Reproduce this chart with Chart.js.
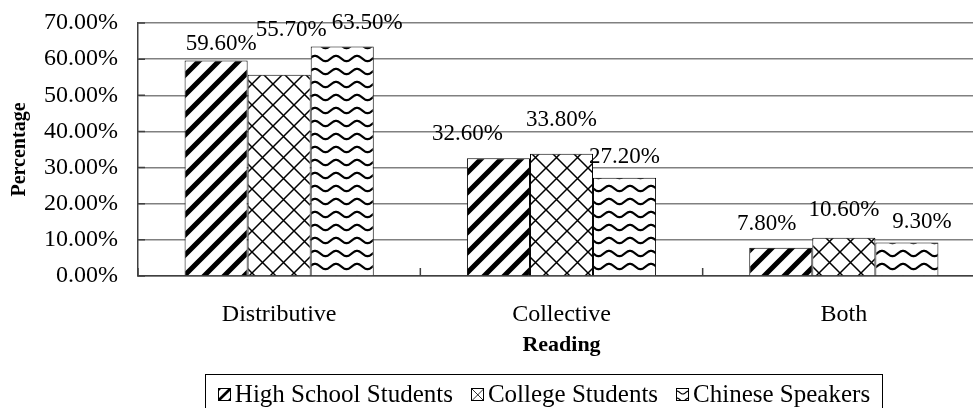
<!DOCTYPE html>
<html>
<head>
<meta charset="utf-8">
<script src="https://cdn.jsdelivr.net/npm/chart.js@4.4.0/dist/chart.umd.min.js"></script>
<style>
    body { margin: 0; background: #fff; overflow: hidden; }
    #wrap { position: relative; width: 986px; height: 408px; }
    #legend {
        position: absolute; left: 205px; top: 374px; width: 678px; height: 50px;
        border: 1px solid #000; box-sizing: border-box;
        font-family: 'Liberation Serif', serif; font-size: 25px; color: #000;
        display: flex; justify-content: center; align-items: flex-start;
        padding-top: 5px; white-space: nowrap;
    }
    .item { display: flex; align-items: center; margin: 0 9px; line-height: 28px; }
    .item canvas { width: 11px; height: 11px; margin-right: 4px; border: 1px solid #000; }
</style>
</head>
<body>
<div id="wrap">
    <canvas id="myChart"></canvas>
    <div id="legend"></div>
</div>
<script>
// data
var categories = ['Distributive', 'Collective', 'Both'];
var seriesNames = ['High School Students', 'College Students', 'Chinese Speakers'];
var highSchool = [59.6, 32.6, 7.8];
var college = [55.7, 33.8, 10.6];
var chinese = [63.5, 27.2, 9.3];
var yMin = 0, yMax = 70, yStep = 10;

// where each value label sits relative to the top of its bar (px)
var labelShiftX = [[5, -31, -14], [12, 0, 0], [25, 0, 15]];
var labelShiftY = [[-17, -24, -24], [-45, -34, -28], [-24, -21, -20]];

var FONT = "'Liberation Serif', serif";

//build a black/white fill pattern like the excel ones
function makePattern(kind, scale) {
    scale = scale || 1;
    var c = document.createElement('canvas');
    var w = 20, h = 20;
    if (kind === 'trellis') { w = 21; h = 21; }
    if (kind === 'wave') { w = 21; h = 13; }
    c.width = w * scale; c.height = h * scale;
    var g = c.getContext('2d');
    g.scale(scale, scale);
    g.fillStyle = '#fff';
    g.fillRect(0, 0, w, h);
    g.strokeStyle = '#000';
    if (kind === 'stripes') {
        g.lineWidth = 5;
        g.beginPath();
        g.moveTo(-5, 5); g.lineTo(5, -5);
        g.moveTo(-2, 22); g.lineTo(22, -2);
        g.moveTo(15, 25); g.lineTo(25, 15);
        g.stroke();
    } else if (kind === 'trellis') {
        g.lineWidth = 1.5;
        g.beginPath();
        g.moveTo(-1, -1); g.lineTo(w + 1, h + 1);
        g.moveTo(w + 1, -1); g.lineTo(-1, h + 1);
        g.stroke();
    } else {
        g.lineWidth = 2.2;
        g.beginPath();
        for (var x = -1; x <= w + 1; x += 0.5) {
            var y = 6.5 - 2.6 * Math.cos(2 * Math.PI * x / w);
            if (x === -1) g.moveTo(x, y); else g.lineTo(x, y);
        }
        g.stroke();
    }
    return g.createPattern(c, 'repeat');
}

var kinds = ['stripes', 'trellis', 'wave'];

// labels on top of bars
var valueLabels = {
    id: 'valueLabels',
    afterDatasetsDraw: function(chart) {
        var ctx = chart.ctx;
        ctx.save();
        ctx.font = '23px ' + FONT;
        ctx.fillStyle = '#000';
        ctx.textAlign = 'center';
        ctx.textBaseline = 'middle';
        chart.data.datasets.forEach(function(ds, d) {
            chart.getDatasetMeta(d).data.forEach(function(bar, i) {
                ctx.fillText(ds.data[i].toFixed(2) + '%', bar.x + labelShiftX[d][i], bar.y + labelShiftY[d][i]);
            });
        });
        ctx.restore();
    }
};

// short tick marks drawn inside the plot area
var innerTicks = {
    id: 'innerTicks',
    afterDraw: function(chart) {
        var ctx = chart.ctx, a = chart.chartArea;
        var xs = chart.scales.x, ys = chart.scales.y;
        ctx.save();
        ctx.strokeStyle = '#404040';
        ctx.lineWidth = 1.5;
        ctx.beginPath();
        ys.ticks.forEach(function(t) {
            var py = ys.getPixelForValue(t.value);
            ctx.moveTo(a.left, py); ctx.lineTo(a.left + 7, py);
        });
        for (var i = 0; i <= categories.length; i++) {
            var px = xs.getPixelForValue(i - 0.5);
            ctx.moveTo(px, a.bottom); ctx.lineTo(px, a.bottom - 8);
        }
        ctx.stroke();
        ctx.restore();
    }
};

var seriesValues = [highSchool, college, chinese];
var datasets = seriesNames.map(function(name, d) {
    return {
        label: name,
        data: seriesValues[d],
        backgroundColor: makePattern(kinds[d]),
        borderColor: '#000',
        borderWidth: 1,
        barPercentage: 1.0,
        categoryPercentage: 0.67
    };
});

var ctx = document.getElementById('myChart').getContext('2d');
var myChart = new Chart(ctx, {
    type: 'bar',
    data: { labels: categories, datasets: datasets },
    options: {
        animation: false,
        responsive: true,
        maintainAspectRatio: false,
        layout: { padding: { left: 8, right: 1, top: 23, bottom: 32 } },
        plugins: {
            legend: { display: false },
            tooltip: { enabled: false }
        },
        scales: {
            x: {
                grid: { display: false, drawTicks: false },
                border: { color: '#404040', width: 1.5 },
                ticks: { color: '#000', font: { family: FONT, size: 24 }, padding: 24 },
                title: {
                    display: true, text: 'Reading', color: '#000',
                    font: { family: FONT, size: 22, weight: 'bold' },
                    padding: { top: 0, bottom: 17 }
                },
                afterFit: function(s) { s.height = 100; }
            },
            y: {
                min: yMin, max: yMax,
                // the gap between labels and axis comes from an invisible tick mark,
                // ticks.padding would also push the plot top down
                grid: { color: '#808080', lineWidth: 1.5, drawTicks: true, tickLength: 20, tickColor: 'rgba(0,0,0,0)' },
                border: { color: '#404040', width: 1.5 },
                ticks: {
                    stepSize: yStep, color: '#000', padding: 0,
                    font: { family: FONT, size: 24 },
                    callback: function(v) { return v.toFixed(2) + '%'; }
                },
                title: {
                    display: true, text: 'Percentage', color: '#000',
                    font: { family: FONT, size: 20, weight: 'bold' },
                    padding: { top: 0, bottom: 0 }
                },
                afterFit: function(s) { s.width = 130; }
            }
        }
    },
    plugins: [valueLabels, innerTicks]
});

//html legend with the same patterns
var legend = document.getElementById('legend');
seriesNames.forEach(function(name, d) {
    var item = document.createElement('span');
    item.className = 'item';
    var sw = document.createElement('canvas');
    sw.width = 11; sw.height = 11;
    var g = sw.getContext('2d');
    g.fillStyle = makePattern(kinds[d], 0.55);
    g.fillRect(0, 0, 11, 11);
    item.appendChild(sw);
    item.appendChild(document.createTextNode(name));
    legend.appendChild(item);
});
</script>
</body>
</html>
